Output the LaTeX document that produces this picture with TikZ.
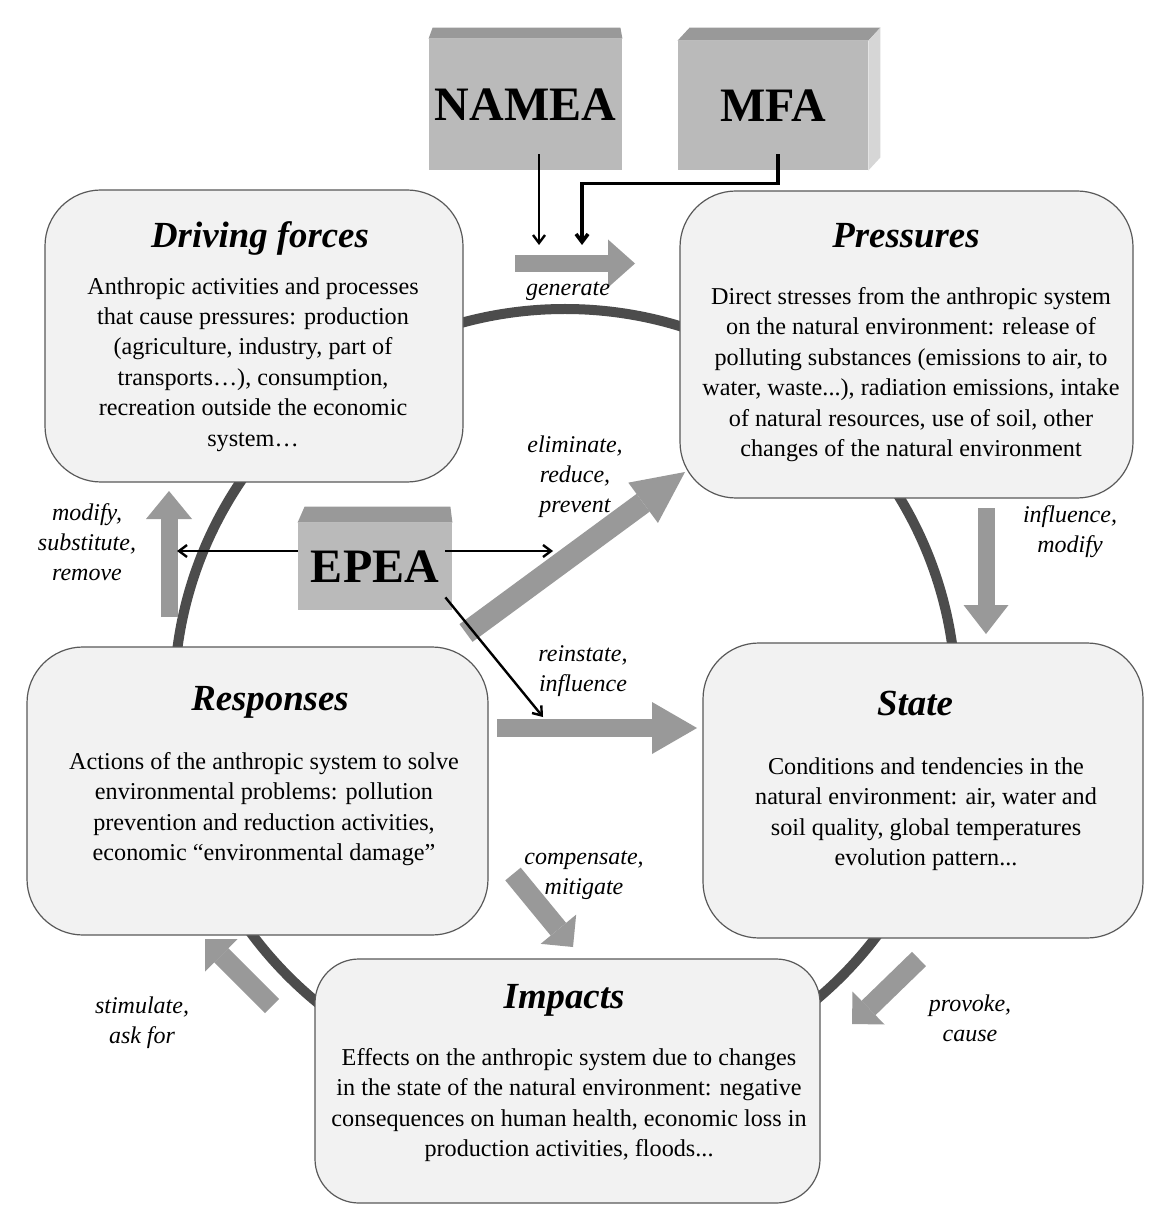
\documentclass[tikz,border=0pt]{standalone}
\usepackage{fontspec}
\setmainfont{Liberation Serif}
\usetikzlibrary{arrows.meta,positioning}
\definecolor{boxfill}{gray}{0.95}
\definecolor{boxline}{gray}{0.35}
\definecolor{ringgray}{gray}{0.3}
\definecolor{fatgray}{gray}{0.6}
\definecolor{cubefront}{gray}{0.73}
\definecolor{cubetop}{gray}{0.6}
\definecolor{cubeside}{gray}{0.84}
\tikzset{
  box/.style={draw=boxline, line width=0.6pt, fill=boxfill, rounded corners=28pt, inner sep=0pt},
  title/.style={font=\fontsize{18.4}{21}\selectfont\bfseries\itshape, anchor=base, inner sep=0pt},
  body/.style={font=\fontsize{12.1}{15.2}\selectfont, align=center, anchor=north, inner sep=0pt},
  verb/.style={font=\fontsize{12}{15}\selectfont\itshape, align=center, inner sep=0pt},
  cube/.style={fill=cubefront, inner sep=0pt, font=\fontsize{24}{24}\selectfont\bfseries},
  fatarrow/.style n args={3}{draw=fatgray, line width=#1, -{Triangle[width=#2, length=#3, line width=0pt]}},
  link/.style={line width=1.2pt, -{Straight Barb[length=4pt, width=6pt]}}
}
\begin{document}
\begin{tikzpicture}[x=0.5pt,y=-0.5pt]
    \useasboundingbox[fill=white] (0,0) rectangle (1158,1218);
    % ring behind the boxes
    \draw[ringgray, line width=5pt] (565,700) circle[radius=195.5pt];

    % DPSIR boxes
    \node[box, minimum width=209pt, minimum height=146pt] (drive) at (254,336) {};
    \node[box, minimum width=226.5pt, minimum height=153.5pt] (press) at (906.5,344.5) {};
    \node[box, minimum width=230.5pt, minimum height=144pt] (resp) at (257.5,791) {};
    \node[box, minimum width=220pt, minimum height=147.5pt] (state) at (923,790.5) {};
    \node[box, rounded corners=22pt, minimum width=252.5pt, minimum height=122pt] (impact) at (567.5,1081) {};

    \node[title] (driveT) at (260,248) {Driving forces};
    \node[title] (pressT) at (906,248) {Pressures};
    \node[title] (respT) at (270,710) {Responses};
    \node[title] (stateT) at (915,715) {State};
    \node[title] (impactT) at (564,1008) {Impacts};

    \node[body] (driveB) at (253,277) {Anthropic activities and processes\\that cause pressures: production\\(agriculture, industry, part of\\transports…), consumption,\\recreation outside the economic\\system…};
    \node[body] (pressB) at (911,287) {Direct stresses from the anthropic system\\on the natural environment: release of\\polluting substances (emissions to air, to\\water, waste...), radiation emissions, intake\\of natural resources, use of soil, other\\changes of the natural environment};
    \node[body] (respB) at (264,752) {Actions of the anthropic system to solve\\environmental problems: pollution\\prevention and reduction activities,\\economic “environmental damage”};
    \node[body] (stateB) at (926,757) {Conditions and tendencies in the\\natural environment: air, water and\\soil quality, global temperatures\\evolution pattern...};
    \node[body] (impactB) at (569,1048) {Effects on the anthropic system due to changes\\in the state of the natural environment: negative\\consequences on human health, economic loss in\\production activities, floods...};

    % accounts
    \node[cube, minimum width=96.5pt, minimum height=65.5pt] (namea) at (525.5,104.5) {NAMEA};
    \fill[cubetop] (namea.north west) -- ([shift={(2pt,5.5pt)}]namea.north west) -- ([shift={(-1pt,5.5pt)}]namea.north east) -- (namea.north east) -- cycle;
    \node[cube, minimum width=95pt, minimum height=64.5pt] (mfa) at (773,105.5) {MFA};
    \fill[cubetop] (mfa.north west) -- ([shift={(6pt,6.5pt)}]mfa.north west) -- ([shift={(6pt,6.5pt)}]mfa.north east) -- (mfa.north east) -- cycle;
    \fill[cubeside] (mfa.north east) -- ([shift={(6pt,6.5pt)}]mfa.north east) -- ([shift={(6pt,6.5pt)}]mfa.south east) -- (mfa.south east) -- cycle;
    \node[cube, minimum width=77pt, minimum height=43.5pt] (epea) at (375,566.5) {EPEA};
    \fill[cubetop] (epea.north west) -- ([shift={(3.5pt,8pt)}]epea.north west) -- ([shift={(-1pt,8pt)}]epea.north east) -- (epea.north east) -- cycle;

    % big grey arrows
    \coordinate (genS) at (515,263.5);  \coordinate (genE) at (635,263.5);
    \coordinate (modS) at (169,617);    \coordinate (modE) at (169,491);
    \coordinate (elimS) at (466,633);   \coordinate (elimE) at (685,472);
    \coordinate (inflS) at (986,508);   \coordinate (inflE) at (986,634);
    \coordinate (reinS) at (497,728);   \coordinate (reinE) at (697,728);
    \coordinate (compS) at (513,874);   \coordinate (compE) at (573,947);
    \coordinate (stimS) at (272,1006);  \coordinate (stimE) at (205,939);
    \coordinate (provS) at (919,959);   \coordinate (provE) at (852,1024);
    \draw[fatarrow={8.5pt}{24pt}{13.5pt}] (genS) -- (genE);
    \draw[fatarrow={8.5pt}{23pt}{14pt}] (modS) -- (modE);
    \draw[fatarrow={11pt}{25pt}{26pt}] (elimS) -- (elimE);
    \draw[fatarrow={8.5pt}{22.5pt}{14.5pt}] (inflS) -- (inflE);
    \draw[fatarrow={9pt}{26pt}{22.5pt}] (reinS) -- (reinE);
    \draw[fatarrow={10pt}{23pt}{11.5pt}] (compS) -- (compE);
    \draw[fatarrow={10pt}{23pt}{11.5pt}] (stimS) -- (stimE);
    \draw[fatarrow={10pt}{23pt}{11.5pt}] (provS) -- (provE);

    % thin links from the accounts
    \coordinate (nameaTip) at (539,245);
    \coordinate (mfaTip) at (582,245);
    \coordinate (subsTip) at (177,551);
    \coordinate (prevTip) at (553,551);
    \coordinate (reinTip) at (543,717);
    \draw[link] ([shift={(6.75pt,8pt)}]namea.south) -- (nameaTip);
    \draw[link, line width=1.8pt] ([shift={(2.5pt,8pt)}]mfa.south) -- ++(0,29) -| (mfaTip);
    \draw[link] ([yshift=7.75pt]epea.west) -- (subsTip);
    \draw[link] ([shift={(-3.5pt,7.75pt)}]epea.east) -- (prevTip);
    \draw[link] ([shift={(-3.5pt,6.5pt)}]epea.south east) -- (reinTip);

    % verbs on the arrows
    \node[verb] (genL) at (568,291) {generate};
    \node[verb] (elimL) at (575,477) {eliminate,\\reduce,\\prevent};
    \node[verb] (modL) at (87,542) {modify,\\substitute,\\remove};
    \node[verb] (inflL) at (1070,532) {influence,\\modify};
    \node[verb] (reinL) at (583,671) {reinstate,\\influence};
    \node[verb] (compL) at (584,875) {compensate,\\mitigate};
    \node[verb] (stimL) at (142,1023) {stimulate,\\ask for};
    \node[verb] (provL) at (970,1018) {provoke,\\cause};
\end{tikzpicture}
\end{document}
